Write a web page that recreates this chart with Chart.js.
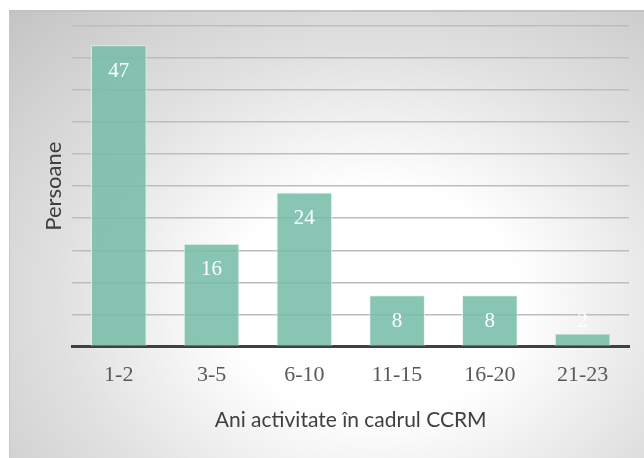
<!doctype html>
<html lang="ro">
  <head>
    <meta charset="utf-8">
    <title>Persoane - ani activitate</title>
    <script src="https://cdn.jsdelivr.net/npm/chart.js"></script>
    <style>
      body { margin: 0; background: #fff; }
      #frame {
        position: absolute; left: 9px; top: 10px; width: 640px; height: 452px;
        border-top: 2px solid #c2c2c2; border-left: 1px solid #c8c8c8;
        background: radial-gradient(ellipse farthest-corner at 57% 64%, #ffffff 0%, #ffffff 28%, #e0e0e0 62%, #c4c4c4 100%);
      }
      #wrap { position: absolute; left: 0; top: 0; width: 644px; height: 458px; }
    </style>
  </head>
  <body>
    <div id="frame"></div>
    <div id="wrap"><canvas id="chart"></canvas></div>
  </body>
</html>

<script>
    // data
    var categories = ["1-2", "3-5", "6-10", "11-15", "16-20", "21-23"];
    var persons = [47, 16, 24, 8, 8, 2];
    var yMax = 50;
    var yStep = 5;

    // white value labels, inside the top of the bar (above it when the bar is too short)
    const valueLabels = {
      id: "valueLabels",
      afterDatasetsDraw(chart) {
        const ctx = chart.ctx;
        const meta = chart.getDatasetMeta(0);
        const yScale = chart.scales.y;
        ctx.save();
        ctx.font = "21px 'Liberation Serif'";
        ctx.fillStyle = "#ffffff";
        ctx.textAlign = "center";
        ctx.textBaseline = "middle";
        meta.data.forEach((bar, i) => {
          const top = yScale.getPixelForValue(persons[i]);
          const y = persons[i] >= 5 ? top + 26 : top - 12;
          ctx.fillText(String(persons[i]), bar.x, y);
        });
        ctx.restore();
      }
    };

    const ctx = document.getElementById("chart").getContext("2d");
    new Chart(ctx, {
      type: "bar",
      data: {
        labels: categories,
        datasets: [{
          label: "Persoane",
          data: persons,
          backgroundColor: "rgba(120, 190, 168, 0.88)",
          borderColor: "rgba(225, 243, 236, 0.9)",
          borderWidth: 1,
          categoryPercentage: 1,
          barPercentage: 0.6
        }]
      },
      options: {
        responsive: true,
        maintainAspectRatio: false,
        animation: false,
        layout: { padding: { left: 41, right: 15, top: 26, bottom: 25 } },
        plugins: {
          legend: { display: false },
          tooltip: { enabled: false }
        },
        scales: {
          x: {
            grid: { display: false, drawTicks: false },
            border: { display: true, color: "#404040", width: 3 },
            ticks: {
              color: "#595959",
              font: { family: "'Liberation Serif'", size: 22 },
              padding: 16,
              maxRotation: 0
            },
            title: {
              display: true,
              text: "Ani activitate în cadrul CCRM",
              color: "#404040",
              font: { family: "Lato", size: 21 },
              padding: { top: 3, bottom: 0 }
            }
          },
          y: {
            min: 0,
            max: yMax,
            ticks: { display: false, stepSize: yStep },
            grid: { color: "#bdbdbd", lineWidth: 1.5, drawTicks: false },
            border: { display: false },
            title: {
              display: true,
              text: "Persoane",
              color: "#404040",
              font: { family: "Lato", size: 22 },
              padding: { top: 0, bottom: 5 }
            }
          }
        }
      },
      plugins: [valueLabels]
    });
</script>
